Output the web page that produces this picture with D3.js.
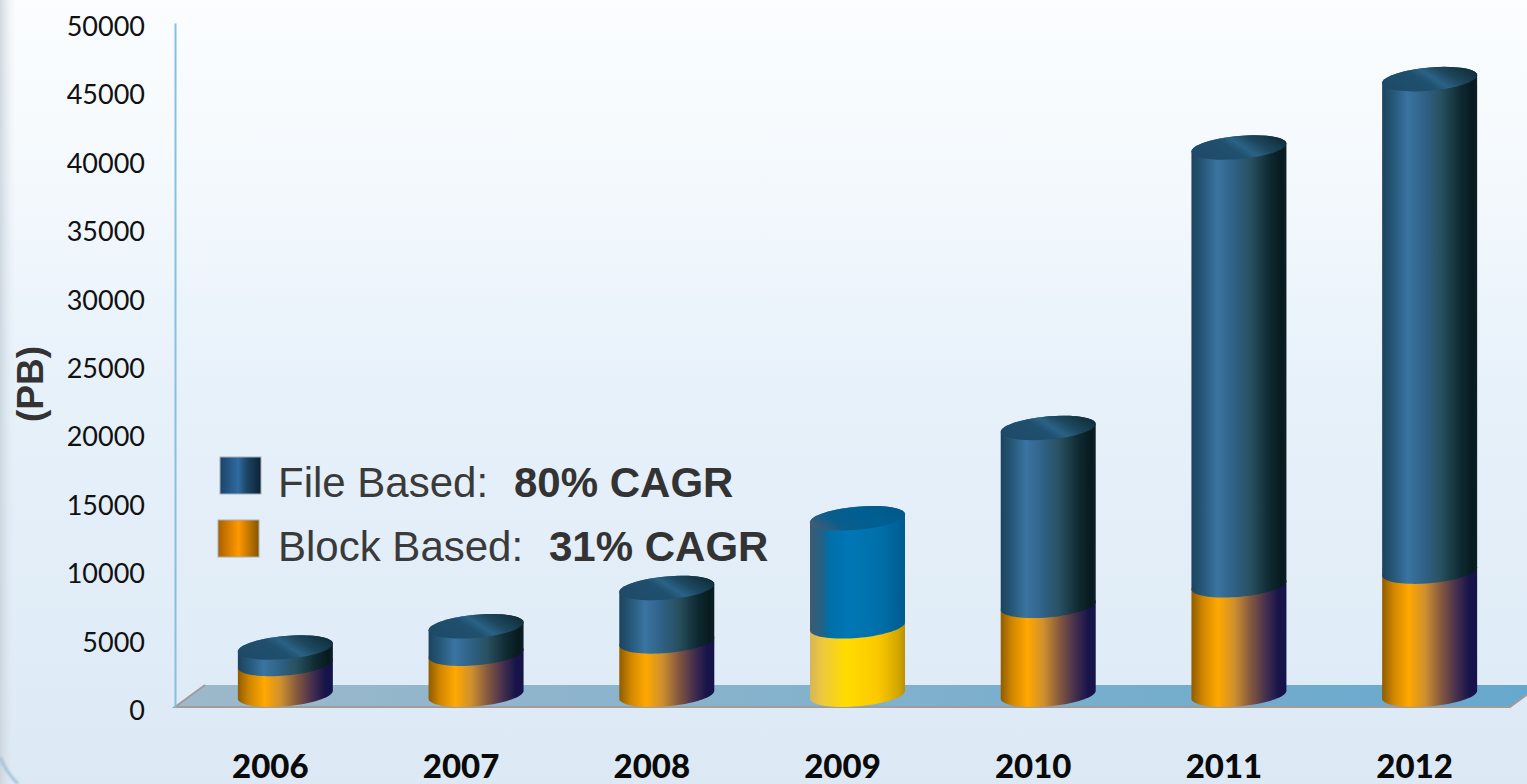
<!DOCTYPE html>
<html>
<head>
<meta charset="utf-8">
<style>
html,body{margin:0;padding:0;background:#e6f0f9;overflow:hidden}
svg{display:block}
</style>
<script src="https://cdn.jsdelivr.net/npm/d3@7"></script>
</head>
<body>
<svg id="chart" width="1527" height="784"></svg>
<script>
// Stored data per year, in petabytes
const years = ["2006","2007","2008","2009","2010","2011","2012"];
const blockBased = [2250,3000,3900,5000,6500,8000,9000];
const fileBased = [1200,2000,3900,7900,13000,32000,36000];
const yTicks = [0,5000,10000,15000,20000,25000,30000,35000,40000,45000,50000];
const highlightedYear = "2009";
const legendNames = ["File Based:","Block Based:"];
const legendRates = ["80% CAGR","31% CAGR"];

const W = 1527, H = 784;
const svg = d3.select("#chart");
const defs = svg.append("defs");

function gradient(id, stops, attrs = {x1:0,y1:0,x2:1,y2:0}) {
  const g = defs.append("linearGradient").attr("id", id);
  Object.entries(attrs).forEach(([k,v]) => g.attr(k,v));
  stops.forEach(([o,c,a]) => {
    const s = g.append("stop").attr("offset", o).attr("stop-color", c);
    if (a !== undefined) s.attr("stop-opacity", a);
  });
}

const vertical = {x1:0,y1:0,x2:0,y2:1};
gradient("page", [[0,"#fbfdff"],[0.22,"#f4f9fd"],[0.5,"#e7f1fa"],[1,"#dce9f5"]], vertical);
gradient("edge", [[0,"#c6d0d8",0.8],[0.5,"#d5dee6",0.4],[1,"#e6f0f9",0]]);
gradient("floor", [[0,"#9db9cb"],[0.5,"#82b1cd"],[1,"#66a8cd"]]);
gradient("fileSide", [[0,"#1c435f"],[0.12,"#265878"],[0.27,"#3a74a2"],[0.45,"#2f6185"],[0.62,"#28505f"],[0.82,"#0f2a32"],[0.95,"#071a1e"],[1,"#0a2026"]]);
gradient("blockSide", [[0,"#8f5c00"],[0.12,"#d08600"],[0.28,"#ffa800"],[0.45,"#cf902e"],[0.62,"#85593f"],[0.78,"#46304e"],[0.92,"#17144a"],[1,"#15134a"]]);
gradient("fileTop", [[0,"#1e4a68"],[0.42,"#20506f"],[0.55,"#2a6286"],[0.72,"#1e4860"],[1,"#10303c"]], {x1:0,y1:0.7,x2:1,y2:0.3});
gradient("fileSideHi", [[0,"#3d5a73"],[0.14,"#1e6389"],[0.2,"#006fa9"],[0.42,"#0077b5"],[0.75,"#006fa8"],[1,"#005a8e"]]);
gradient("blockSideHi", [[0,"#d6b558"],[0.14,"#efc93a"],[0.38,"#ffdc00"],[0.72,"#fbc800"],[0.92,"#d6a800"],[1,"#b89200"]]);
gradient("fileTopHi", [[0,"#3f5c74"],[0.25,"#0a5d8c"],[0.6,"#005f92"],[1,"#005a8a"]], {x1:0,y1:0.7,x2:1,y2:0.3});
gradient("fileSwatch", [[0,"#1d4468"],[0.45,"#2f6aa0"],[0.65,"#1c4668"],[1,"#0a2233"]]);
gradient("blockSwatch", [[0,"#a86000"],[0.5,"#ff9800"],[1,"#875500"]]);
defs.append("filter").attr("id","soft").append("feGaussianBlur").attr("stdDeviation",1.2);

// Page background with a soft shaded strip on the left margin and a faint corner sweep
svg.append("rect").attr("width",W).attr("height",H).attr("fill","url(#page)");
svg.append("rect").attr("width",16).attr("height",H).attr("fill","url(#edge)");
svg.append("path").attr("d","M0,757 Q6,772 18,784").attr("fill","none")
  .attr("stroke","#a6c3d8").attr("stroke-width",3).attr("filter","url(#soft)");

// Scales
const y = d3.scaleLinear().domain([0,50000]).range([707,23]);
const x = d3.scaleBand().domain(years).range([175,1510]);
const depth = {dx:30, dy:22};

// Floor of the plot, a parallelogram receding from the zero line
const floorPts = [[x.range()[0],y(0)],[x.range()[0]+depth.dx,y(0)-depth.dy],[x.range()[1]+depth.dx,y(0)-depth.dy],[x.range()[1],y(0)]];
svg.append("path").attr("d",d3.line()(floorPts)+"Z").attr("fill","url(#floor)");
svg.append("path").attr("d",d3.line()([floorPts[1],floorPts[0],floorPts[3],floorPts[2]]))
  .attr("fill","none").attr("stroke","#a09c9c").attr("stroke-width",2);

// Value axis
const yAxis = svg.append("g").attr("transform","translate(175,0)")
  .call(d3.axisLeft(y).tickValues(yTicks).tickSize(0).tickPadding(30).tickFormat(d3.format("d")));
yAxis.select(".domain").attr("stroke","#85c0e2").attr("stroke-width",2);
yAxis.selectAll("text").attr("font-family","Lato").attr("font-size",27).attr("fill","#111").attr("dy","0.46em");

// Year axis
const xAxis = svg.append("g").attr("transform","translate(0,778)")
  .call(d3.axisBottom(x).tickSize(0).tickPadding(0));
xAxis.select(".domain").remove();
xAxis.selectAll("text").attr("font-family","Lato").attr("font-weight",900).attr("font-size",33).attr("fill","#0a0a0a").attr("dy",0);

// Cylinders: each segment is the side wall between two skewed ellipses
const halfWidth = 47.5, ry = 11.6, skew = 4;
const barCentre = d => x(d) + x.bandwidth()/2 + 15;
const point = (cx, cy, t) => [cx + halfWidth*Math.cos(t), cy + ry*Math.sin(t) - skew*Math.cos(t)];
const arc = (cx, cy, from, to) => d3.range(0,41).map(i => point(cx, cy, from + (to-from)*i/40));
// A value marks the lowest front point of its ellipse
const centreY = v => y(v) - Math.hypot(ry, skew);

// Front curve of the lower ellipse, then the far curve of the upper one
function segmentPath(cx, v0, v1) {
  const lower = arc(cx, centreY(v0), Math.PI, 0);
  const upper = arc(cx, centreY(v1), 0, -Math.PI);
  return d3.line()(lower.concat(upper)) + "Z";
}
function ellipsePath(cx, v) {
  return d3.line()(arc(cx, centreY(v), 0, 2*Math.PI)) + "Z";
}

const bars = svg.append("g").selectAll("g").data(years).join("g");
bars.each(function(year, i) {
  const g = d3.select(this);
  const cx = barCentre(year);
  const hi = year === highlightedYear ? "Hi" : "";
  const total = blockBased[i] + fileBased[i];
  g.append("path").attr("d", segmentPath(cx, 0, blockBased[i])).attr("fill",`url(#blockSide${hi})`);
  g.append("path").attr("d", segmentPath(cx, blockBased[i], total)).attr("fill",`url(#fileSide${hi})`);
  g.append("path").attr("d", ellipsePath(cx, total)).attr("fill",`url(#fileTop${hi})`);
});

// Legend
const legendRows = [
  {swatch:[220,457], fill:"fileSwatch", nameX:278, rateX:514, base:497},
  {swatch:[218,520], fill:"blockSwatch", nameX:278, rateX:549, base:561}
];
legendRows.forEach((row,i) => {
  svg.append("rect").attr("x",row.swatch[0]).attr("y",row.swatch[1]).attr("width",41).attr("height",37)
    .attr("fill",`url(#${row.fill})`).attr("stroke","#a8b0b8").attr("stroke-width",1);
  svg.append("text").attr("x",row.nameX).attr("y",row.base).text(legendNames[i])
    .attr("font-family","Liberation Sans").attr("font-size",42).attr("fill","#3a3a3a");
  svg.append("text").attr("x",row.rateX).attr("y",row.base).text(legendRates[i])
    .attr("font-family","Liberation Sans").attr("font-weight","bold").attr("font-size",42).attr("fill","#333");
});

// Unit label
svg.append("text").attr("transform","translate(43,384) rotate(-90)").attr("text-anchor","middle")
  .text("(PB)").attr("font-family","Liberation Sans").attr("font-weight","bold").attr("font-size",37).attr("fill","#333");
</script>
</body>
</html>
